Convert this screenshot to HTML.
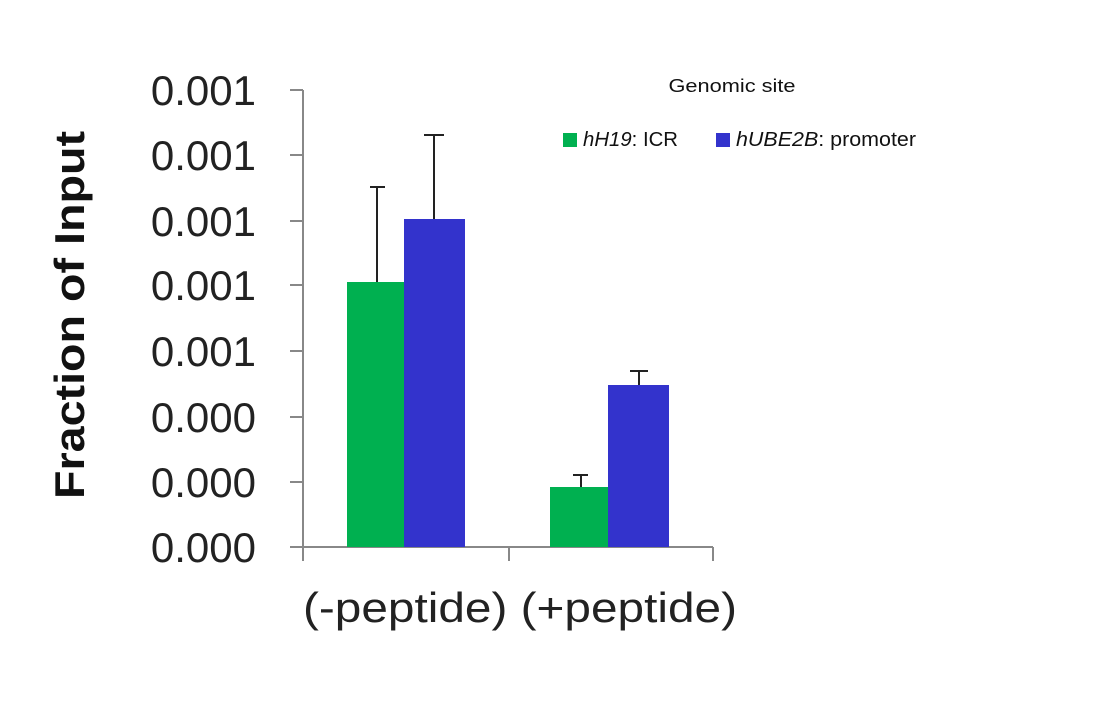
<!DOCTYPE html>
<html><head><meta charset="utf-8"><style>body{margin:0;background:#fff}svg{display:block}</style></head>
<body>
<svg width="1096" height="724" xmlns="http://www.w3.org/2000/svg" font-family="Liberation Sans, sans-serif">
<rect width="1096" height="724" fill="#fff"/>
<g stroke="#888" stroke-width="2">
<line x1="303" y1="90" x2="303" y2="547"/>
<line x1="290" y1="547" x2="713" y2="547"/>
<line x1="290" y1="90" x2="303" y2="90"/>
<line x1="290" y1="155" x2="303" y2="155"/>
<line x1="290" y1="221" x2="303" y2="221"/>
<line x1="290" y1="285" x2="303" y2="285"/>
<line x1="290" y1="351" x2="303" y2="351"/>
<line x1="290" y1="417" x2="303" y2="417"/>
<line x1="290" y1="482" x2="303" y2="482"/>
<line x1="303" y1="547" x2="303" y2="561"/>
<line x1="509" y1="547" x2="509" y2="561"/>
<line x1="713" y1="547" x2="713" y2="561"/>
</g>
<g font-size="42" fill="#222" text-anchor="end">
<text x="256" y="105">0.001</text>
<text x="256" y="170">0.001</text>
<text x="256" y="236">0.001</text>
<text x="256" y="300">0.001</text>
<text x="256" y="366">0.001</text>
<text x="256" y="432">0.000</text>
<text x="256" y="497">0.000</text>
<text x="256" y="562">0.000</text>
</g>
<text transform="translate(84,315) rotate(-90)" text-anchor="middle" font-size="42" font-weight="bold" fill="#111" textLength="368" lengthAdjust="spacingAndGlyphs">Fraction  of  Input</text>
<text x="303" y="622" font-size="42" fill="#222" textLength="434" lengthAdjust="spacingAndGlyphs">(-peptide) (+peptide)</text>
<g stroke="#222" stroke-width="2">
<line x1="377" y1="187" x2="377" y2="282"/><line x1="370" y1="187" x2="385" y2="187"/>
<line x1="434" y1="135" x2="434" y2="219"/><line x1="424" y1="135" x2="444" y2="135"/>
<line x1="581" y1="475" x2="581" y2="487"/><line x1="573" y1="475" x2="588" y2="475"/>
<line x1="639" y1="371" x2="639" y2="385"/><line x1="630" y1="371" x2="648" y2="371"/>
</g>
<rect x="347" y="282" width="57" height="265" fill="#00b050"/>
<rect x="404" y="219" width="61" height="328" fill="#3333cc"/>
<rect x="550" y="487" width="58" height="60" fill="#00b050"/>
<rect x="608" y="385" width="61" height="162" fill="#3333cc"/>
<text x="732" y="92" font-size="18" text-anchor="middle" fill="#111" textLength="127" lengthAdjust="spacingAndGlyphs">Genomic site</text>
<rect x="563" y="133" width="14" height="14" fill="#00b050"/>
<text x="583" y="146" font-size="20" fill="#111" textLength="95" lengthAdjust="spacingAndGlyphs"><tspan font-style="italic">hH19</tspan>: ICR</text>
<rect x="716" y="133" width="14" height="14" fill="#3333cc"/>
<text x="736" y="146" font-size="20" fill="#111" textLength="180" lengthAdjust="spacingAndGlyphs"><tspan font-style="italic">hUBE2B</tspan>: promoter</text>
</svg>
</body></html>
